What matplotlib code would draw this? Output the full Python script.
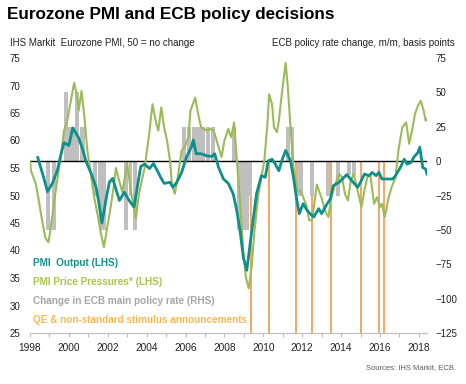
import matplotlib
matplotlib.use("Agg")
import matplotlib.pyplot as plt

plt.rcParams['font.family'] = ['Liberation Sans', 'DejaVu Sans']

# PMI Output (LHS), decimal year / index
output_t = [1998.4, 1998.55, 1998.7, 1998.9, 1999.15, 1999.4, 1999.6, 1999.75, 2000.0, 2000.2,
            2000.35, 2000.5, 2000.7, 2000.9, 2001.15, 2001.4, 2001.55, 2001.7, 2001.9, 2002.08,
            2002.25, 2002.6, 2002.85, 2003.1, 2003.35, 2003.55, 2003.7, 2003.9, 2004.15, 2004.35,
            2004.55, 2004.75, 2004.9, 2005.2, 2005.35, 2005.55, 2005.8, 2006.05, 2006.3, 2006.4,
            2006.55, 2006.8, 2007.1, 2007.35, 2007.5, 2007.7, 2007.95, 2008.2, 2008.45, 2008.6,
            2008.8, 2008.97, 2009.15, 2009.3, 2009.5, 2009.65, 2009.9, 2010.1, 2010.25, 2010.45,
            2010.6, 2010.8, 2010.95, 2011.15, 2011.4, 2011.55, 2011.7, 2011.85, 2012.05, 2012.25,
            2012.4, 2012.6, 2012.85, 2013.0, 2013.2, 2013.45, 2013.6, 2013.9, 2014.15, 2014.3,
            2014.55, 2014.85, 2015.0, 2015.2, 2015.45, 2015.6, 2015.8, 2015.95, 2016.1, 2016.4,
            2016.65, 2016.8, 2017.05, 2017.25, 2017.4, 2017.6, 2017.75, 2017.95, 2018.05, 2018.2,
            2018.35, 2018.42]
output_v = [56.9, 55.1, 53.3, 50.7, 52.2, 54.5, 57.6, 59.6, 59.1, 62.3,
            61.4, 60.5, 58.5, 56.0, 54.0, 51.5, 48.5, 45.0, 49.1, 52.4,
            53.1, 49.1, 50.6, 49.1, 47.9, 52.2, 55.3, 55.7, 54.9, 55.8,
            54.5, 53.1, 52.2, 52.4, 51.5, 52.4, 54.2, 57.0, 58.8, 60.1,
            57.6, 57.6, 57.2, 57.1, 57.6, 55.1, 53.0, 52.2, 50.3, 47.9,
            43.7, 38.8, 36.4, 40.6, 46.1, 50.3, 53.6, 53.3, 56.3, 56.6,
            55.8, 54.5, 56.3, 58.2, 56.3, 53.3, 49.7, 46.7, 48.5, 47.3,
            46.7, 46.1, 47.6, 46.7, 48.0, 49.4, 51.8, 52.4, 53.3, 53.8,
            52.7, 51.5, 52.4, 53.9, 53.6, 54.2, 53.6, 54.2, 53.0, 53.0,
            53.0, 53.6, 55.1, 56.6, 55.7, 56.0, 57.0, 57.8, 58.8, 55.1,
            54.8, 53.9]

# PMI Price Pressures (LHS)
prices_t = [1998.0, 1998.05, 1998.3, 1998.45, 1998.65, 1998.8, 1998.95, 1999.05, 1999.25, 1999.4,
            1999.6, 1999.75, 1999.9, 2000.1, 2000.27, 2000.4, 2000.5, 2000.65, 2000.8, 2000.95,
            2001.15, 2001.3, 2001.5, 2001.65, 2001.8, 2001.95, 2002.15, 2002.3, 2002.42, 2002.6,
            2002.75, 2003.0, 2003.2, 2003.45, 2003.6, 2003.9, 2004.15, 2004.3, 2004.5, 2004.6,
            2004.75, 2004.9, 2005.05, 2005.2, 2005.3, 2005.45, 2005.6, 2005.8, 2005.95, 2006.15,
            2006.25, 2006.5, 2006.65, 2006.8, 2007.1, 2007.25, 2007.45, 2007.7, 2007.85, 2008.0,
            2008.2, 2008.35, 2008.5, 2008.6, 2008.8, 2008.97, 2009.1, 2009.25, 2009.4, 2009.55,
            2009.75, 2009.9, 2010.05, 2010.2, 2010.3, 2010.45, 2010.55, 2010.7, 2010.8, 2010.95,
            2011.15, 2011.25, 2011.4, 2011.55, 2011.75, 2011.9, 2012.05, 2012.25, 2012.35, 2012.5,
            2012.6, 2012.75, 2012.85, 2013.0, 2013.2, 2013.35, 2013.5, 2013.7, 2013.9, 2014.05,
            2014.2, 2014.35, 2014.5, 2014.65, 2014.85, 2015.05, 2015.2, 2015.35, 2015.5, 2015.7,
            2015.85, 2016.0, 2016.1, 2016.25, 2016.45, 2016.6, 2016.8, 2016.95, 2017.15, 2017.35,
            2017.5, 2017.65, 2017.8, 2017.95, 2018.1, 2018.25, 2018.35, 2018.42]
prices_v = [56.3, 54.5, 52.1, 49.1, 44.9, 42.2, 41.5, 43.7, 49.1, 52.7,
            57.6, 61.8, 63.3, 67.2, 70.5, 68.4, 65.4, 69.0, 64.2, 58.2,
            53.3, 49.7, 46.1, 43.1, 40.6, 43.7, 47.9, 51.5, 55.0, 52.5,
            50.6, 55.8, 50.5, 45.8, 50.3, 55.1, 61.8, 66.6, 63.0, 61.8,
            66.0, 62.4, 60.0, 56.3, 52.1, 50.3, 53.3, 58.2, 58.8, 60.6,
            65.4, 67.8, 64.8, 62.4, 61.8, 62.1, 61.8, 58.8, 57.0, 60.0,
            62.1, 60.6, 63.3, 58.2, 49.1, 40.0, 35.2, 33.1, 37.0, 43.7,
            50.3, 53.3, 56.3, 62.4, 68.4, 66.6, 62.4, 61.5, 63.6, 68.4,
            74.1, 70.2, 62.4, 55.1, 50.9, 50.9, 49.7, 47.9, 45.5, 45.5,
            47.9, 52.0, 51.0, 49.5, 47.0, 46.1, 49.7, 52.1, 53.9, 53.3,
            50.3, 49.1, 52.7, 53.9, 50.9, 47.9, 50.9, 53.3, 53.9, 48.5,
            49.7, 47.9, 48.5, 46.1, 49.7, 51.5, 53.3, 58.2, 62.4, 63.3,
            59.4, 61.8, 64.8, 66.3, 67.2, 65.4, 63.6, 63.9]

# Change in ECB main policy rate (RHS), basis points
ecb_t = [1998.92, 1999.25, 1999.83, 2000.08, 2000.17, 2000.25, 2000.42, 2000.67, 2000.75,
         2001.33, 2001.58, 2001.67, 2001.83, 2002.92, 2003.17, 2003.42,
         2005.92, 2006.17, 2006.42, 2006.58, 2006.75, 2006.92, 2007.17, 2007.42, 2008.5,
         2008.75, 2008.83, 2008.92, 2009.0, 2009.17, 2009.25, 2009.33,
         2011.25, 2011.5, 2011.83, 2011.92, 2012.5, 2013.33, 2013.83, 2014.42, 2014.67]
ecb_v = [-50, -50, 50, 25, 25, 25, 50, 25, 25,
         -25, -25, -50, -50, -50, -25, -50,
         25, 25, 25, 25, 25, 25, 25, 25, 25,
         -50, -50, -50, -50, -50, -25, -25,
         25, 25, -25, -25, -25, -25, -25, -10, -10]

# QE & non-standard stimulus announcements
qe_t = [2009.35, 2010.3, 2011.67, 2012.5, 2013.5, 2015.02, 2015.93, 2016.2]

teal = '#0f8f89'
green = '#9bbb59'
grey = '#bfbfbf'
orange = '#f79646'

fig = plt.figure(figsize=(4.66, 3.84), dpi=100)
ax = fig.add_axes([30 / 466, 1 - 333 / 384, 397 / 466, 275 / 384])
ax2 = ax.twinx()

ax2.vlines(qe_t, -125, 0, color=orange, lw=1.2, zorder=1)
ax2.bar(ecb_t, ecb_v, width=0.2, color=grey, zorder=2)
ax2.axhline(0, color='black', lw=1.0, zorder=3)

ax.plot(prices_t, prices_v, color=green, lw=1.5, zorder=3)
ax.plot(output_t, output_v, color=teal, lw=2.0, zorder=4)

ax.set_zorder(ax2.get_zorder() + 1)
ax.patch.set_visible(False)

ax.set_xlim(1998.0, 2018.42)
ax.set_ylim(25, 75)
ax2.set_ylim(-125, 75)
ax.set_yticks(range(25, 80, 5))
ax2.set_yticks(range(-125, 100, 25))
ax.set_xticks(range(1998, 2019))
ax.set_xticklabels([str(y) if y % 2 == 0 else '' for y in range(1998, 2019)])

for a in (ax, ax2):
    for s in ('top', 'left', 'right'):
        a.spines[s].set_visible(False)
    a.spines['bottom'].set_color('#bfbfbf')
ax.tick_params(axis='y', length=0, labelsize=7, pad=7, labelcolor='#222222')
ax2.tick_params(axis='y', length=0, labelsize=7, pad=6, labelcolor='#222222')
ax.tick_params(axis='x', length=3, color='#bfbfbf', labelsize=7.3, pad=4, labelcolor='#222222')

fig.text(7 / 466, 1 - 19.5 / 384, 'Eurozone PMI and ECB policy decisions',
         fontsize=12.3, fontweight='bold', va='baseline', ha='left')
fig.text(10 / 466, 1 - 45.5 / 384, 'IHS Markit  Eurozone PMI, 50 = no change',
         fontsize=7, va='baseline', ha='left', color='#222222')
fig.text(455 / 466, 1 - 45.5 / 384, 'ECB policy rate change, m/m, basis points',
         fontsize=7, va='baseline', ha='right', color='#222222')
fig.text(456 / 466, 1 - 368 / 384, 'Sources: IHS Markit, ECB.',
         fontsize=5.5, va='center', ha='right', color='#595959')

legend_items = [('PMI  Output (LHS)', '#17918a', 262.7),
                ('PMI Price Pressures* (LHS)', '#a9c54a', 281.7),
                ('Change in ECB main policy rate (RHS)', '#a6a6a6', 300.7),
                ('QE & non-standard stimulus announcements', '#f8b94d', 320)]
for label, c, ypix in legend_items:
    fig.text(33 / 466, 1 - ypix / 384, label, fontsize=7.2, fontweight='bold',
             color=c, va='center', ha='left')

fig.savefig('out.png', dpi=100)
